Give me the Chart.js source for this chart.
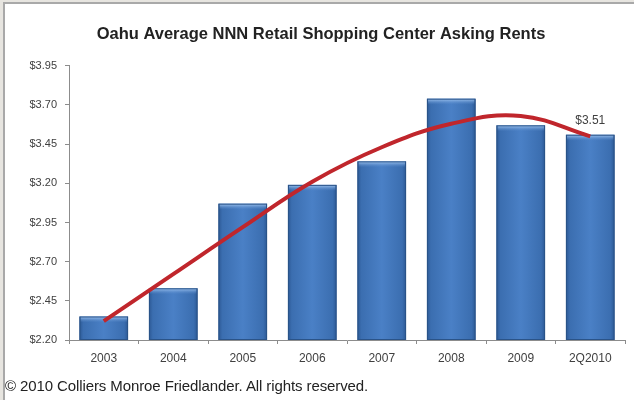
<!DOCTYPE html>
<html>
<head>
<meta charset="utf-8">
<script src="https://cdn.jsdelivr.net/npm/chart.js@4"></script>
<style>
  html, body { margin: 0; padding: 0; width: 634px; height: 400px; overflow: hidden; background: #e7e5e0; }
  #frame { position: absolute; left: 3px; top: 2px; width: 640px; height: 410px; background: #ffffff; border-left: 2px solid #a9a9a9; border-top: 2px solid #a9a9a9; }
  #wrap { position: absolute; left: 0; top: 0; width: 634px; height: 400px; }
  #copy { position: absolute; left: 5px; top: 377px; font-family: "Liberation Sans", Arial, sans-serif; font-size: 15px; letter-spacing: -0.1px; color: #222; white-space: nowrap; }
</style>
</head>
<body>
<div id="frame"></div>
<div id="wrap"><canvas id="c" width="634" height="400"></canvas></div>
<div id="copy">© 2010 Colliers Monroe Friedlander. All rights reserved.</div>
<script>
const categories = ["2003", "2004", "2005", "2006", "2007", "2008", "2009", "2Q2010"];
const rents = [2.35, 2.53, 3.07, 3.19, 3.34, 3.74, 3.57, 3.51];
const trend = [2.32, 2.62, 2.92, 3.21, 3.43, 3.58, 3.63, 3.50];
const yTicks = [2.20, 2.45, 2.70, 2.95, 3.20, 3.45, 3.70, 3.95];
const labelIndex = 7;
const labelText = "$3.51";

const barStyle = {
  id: 'barStyle',
  afterDatasetDraw(chart, args) {
    if (args.meta.type !== 'bar') return;
    const ctx = chart.ctx;
    const area = chart.chartArea;
    args.meta.data.forEach((el) => {
      const w = el.width, l = el.x - w / 2, r = el.x + w / 2, t = el.y;
      const b = Math.min(el.base, area.bottom);
      ctx.save();
      const g = ctx.createLinearGradient(l, 0, r, 0);
      g.addColorStop(0, '#2c5894');
      g.addColorStop(0.08, '#3b6eb0');
      g.addColorStop(0.5, '#4a80c6');
      g.addColorStop(0.92, '#3b6eb0');
      g.addColorStop(1, '#2c5894');
      ctx.fillStyle = g;
      ctx.fillRect(l, t, w, b - t);
      const tg = ctx.createLinearGradient(0, t, 0, t + 6);
      tg.addColorStop(0, 'rgba(170,205,245,0.95)');
      tg.addColorStop(1, 'rgba(90,140,205,0)');
      ctx.fillStyle = tg;
      ctx.fillRect(l + 1, t, w - 2, 6);
      ctx.strokeStyle = '#2a5388';
      ctx.lineWidth = 1;
      ctx.strokeRect(l + 0.5, t + 0.5, w - 1, b - t - 1);
      ctx.restore();
    });
  },
  afterDraw(chart) {
    const meta = chart.getDatasetMeta(1);
    const el = meta.data[labelIndex];
    const ctx = chart.ctx;
    ctx.save();
    ctx.font = '12px "Liberation Sans", Arial, sans-serif';
    ctx.fillStyle = '#404040';
    ctx.textAlign = 'center';
    ctx.textBaseline = 'bottom';
    ctx.fillText(labelText, el.x, el.y - 8);
    ctx.restore();
  }
};

new Chart(document.getElementById('c'), {
  data: {
    labels: categories,
    datasets: [
      {
        type: 'line',
        data: trend,
        borderColor: '#c0262c',
        borderWidth: 4,
        pointRadius: 0,
        tension: 0.4,
        fill: false
      },
      {
        type: 'bar',
        data: rents,
        backgroundColor: 'rgba(0,0,0,0)',
        barPercentage: 0.7,
        categoryPercentage: 1.0
      }
    ]
  },
  options: {
    responsive: false,
    animation: false,
    events: [],
    layout: { padding: { top: 0, left: 17, right: 9, bottom: 30 } },
    plugins: {
      legend: { display: false },
      tooltip: { enabled: false },
      title: {
        display: true,
        text: 'Oahu Average NNN Retail Shopping Center Asking Rents',
        color: '#222222',
        font: { family: '"Liberation Sans", Arial, sans-serif', size: 16.5, weight: 'bold' },
        padding: { top: 25, bottom: 21 }
      }
    },
    scales: {
      x: {
        offset: true,
        grid: { display: true, drawOnChartArea: false, offset: true, tickLength: 4, color: '#8c8c8c' },
        border: { color: '#8c8c8c' },
        ticks: { color: '#404040', font: { family: '"Liberation Sans", Arial, sans-serif', size: 12 }, padding: 7 },
        afterFit(s) { s.height = 30; }
      },
      y: {
        min: 2.2, max: 3.95,
        afterBuildTicks(s) { s.ticks = yTicks.map(v => ({ value: v })); },
        grid: { display: true, drawOnChartArea: false, tickLength: 4, color: '#8c8c8c' },
        border: { color: '#8c8c8c' },
        ticks: {
          color: '#404040',
          font: { family: '"Liberation Sans", Arial, sans-serif', size: 11 },
          padding: 8,
          callback: (v) => '$' + Number(v).toFixed(2)
        },
        afterFit(s) { s.width = 52; }
      }
    }
  },
  plugins: [barStyle]
});
</script>
</body>
</html>
